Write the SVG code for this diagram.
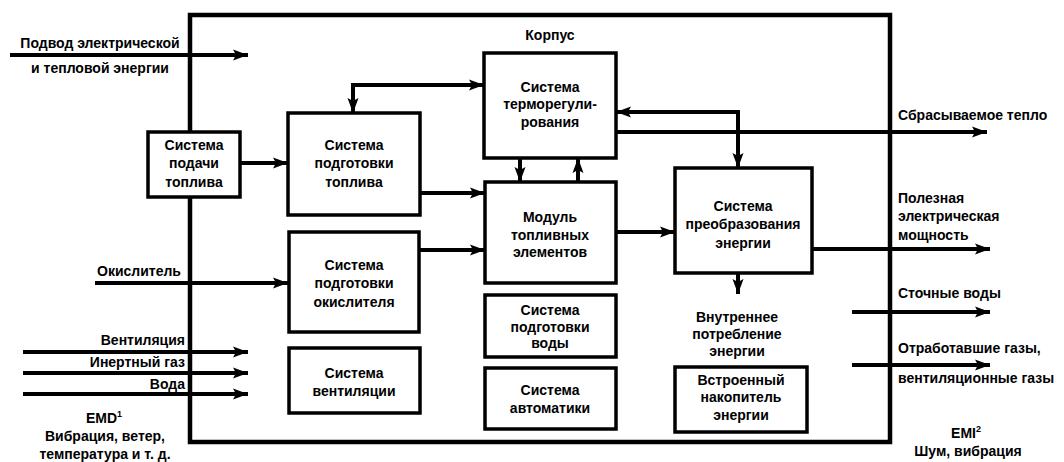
<svg xmlns="http://www.w3.org/2000/svg" width="1064" height="462" viewBox="0 0 1064 462">
<style>
text{font-family:"Liberation Sans",Arial,sans-serif;font-size:14px;font-weight:bold;fill:#000}
.c{text-anchor:middle}
.e{text-anchor:end}
.box{fill:#fff;stroke:#000;stroke-width:3.5}
.ln{fill:none;stroke:#000;stroke-width:4}
.ar{marker-end:url(#ah)}
.bi{marker-start:url(#ah);marker-end:url(#ah)}
</style>
<defs>
<marker id="ah" markerUnits="userSpaceOnUse" markerWidth="16" markerHeight="14" refX="15" refY="6" orient="auto-start-reverse" viewBox="0 0 16 12">
<path d="M0,0.5 L15,6 L0,11.5 L3,6 z" fill="#000"/>
</marker>
</defs>
<g id="housing">
<rect x="190" y="15" width="700" height="427" fill="none" stroke="#000" stroke-width="4.5"/>
<text class="c" x="550" y="40">Корпус</text>
</g>
<g id="connectors">
<path class="ln ar" d="M10,55 H248"/>
<path class="ln ar" d="M240,163 H288"/>
<path class="ln ar" d="M95,283 H288"/>
<path class="ln ar" d="M23,352 H248"/>
<path class="ln ar" d="M23,373 H248"/>
<path class="ln ar" d="M23,394 H248"/>
<path class="ln bi" d="M353,113 V85 H484"/>
<path class="ln bi" d="M616,112 H738 V168"/>
<path class="ln ar" d="M616,132 H987"/>
<path class="ln ar" d="M520,158 V182"/>
<path class="ln ar" d="M578,182 V158"/>
<path class="ln ar" d="M420,193 H485"/>
<path class="ln ar" d="M419,250 H485"/>
<path class="ln ar" d="M616,232 H675"/>
<path class="ln ar" d="M738,273 V294"/>
<path class="ln ar" d="M812,249 H990"/>
<path class="ln ar" d="M852,312 H990"/>
<path class="ln ar" d="M852,365 H990"/>
</g>
<g id="fuel-supply">
<rect class="box" x="148" y="132" width="92" height="65"/>
<text class="c" x="194" y="150">Система</text>
<text class="c" x="194" y="168">подачи</text>
<text class="c" x="194" y="187">топлива</text>
</g>
<g id="fuel-prep">
<rect class="box" x="288" y="113" width="132" height="102"/>
<text class="c" x="354" y="150">Система</text>
<text class="c" x="354" y="168">подготовки</text>
<text class="c" x="354" y="187">топлива</text>
</g>
<g id="oxidant-prep">
<rect class="box" x="289" y="232" width="130" height="100"/>
<text class="c" x="354" y="270">Система</text>
<text class="c" x="354" y="288">подготовки</text>
<text class="c" x="354" y="307">окислителя</text>
</g>
<g id="ventilation">
<rect class="box" x="289" y="348" width="131" height="65"/>
<text class="c" x="354" y="378">Система</text>
<text class="c" x="354" y="396">вентиляции</text>
</g>
<g id="thermal">
<rect class="box" x="484" y="53" width="132" height="105"/>
<text class="c" x="550" y="92">Система</text>
<text class="c" x="550" y="109">терморегули-</text>
<text class="c" x="550" y="127">рования</text>
</g>
<g id="fuel-cell-module">
<rect class="box" x="485" y="182" width="131" height="101"/>
<text class="c" x="550" y="222">Модуль</text>
<text class="c" x="550" y="240">топливных</text>
<text class="c" x="550" y="257">элементов</text>
</g>
<g id="water-prep">
<rect class="box" x="485" y="295" width="131" height="62"/>
<text class="c" x="550" y="315">Система</text>
<text class="c" x="550" y="332">подготовки</text>
<text class="c" x="550" y="348">воды</text>
</g>
<g id="automation">
<rect class="box" x="485" y="368" width="131" height="61"/>
<text class="c" x="550" y="395">Система</text>
<text class="c" x="550" y="413">автоматики</text>
</g>
<g id="power-conversion">
<rect class="box" x="675" y="168" width="137" height="105"/>
<text class="c" x="743" y="211">Система</text>
<text class="c" x="743" y="229">преобразования</text>
<text class="c" x="743" y="248">энергии</text>
</g>
<g id="internal-consumption">
<text class="c" x="737" y="322">Внутреннее</text>
<text class="c" x="737" y="339">потребление</text>
<text class="c" x="737" y="356">энергии</text>
</g>
<g id="energy-storage">
<rect class="box" x="675" y="367" width="132" height="65"/>
<text class="c" x="741" y="385">Встроенный</text>
<text class="c" x="741" y="402">накопитель</text>
<text class="c" x="741" y="420">энергии</text>
</g>
<g id="labels">
<text class="c" x="100" y="48">Подвод электрической</text>
<text class="c" x="100" y="73">и тепловой энергии</text>
<text x="97" y="276">Окислитель</text>
<text class="e" x="185" y="345">Вентиляция</text>
<text class="e" x="185" y="367">Инертный газ</text>
<text class="e" x="185" y="389">Вода</text>
<text class="c" x="104" y="423">ЕМD<tspan font-size="9" dy="-6">1</tspan></text>
<text class="c" x="105" y="441">Вибрация, ветер,</text>
<text class="c" x="105" y="459">температура и т. д.</text>
<text x="898" y="120">Сбрасываемое тепло</text>
<text x="898" y="203">Полезная</text>
<text x="898" y="221">электрическая</text>
<text x="898" y="240">мощность</text>
<text x="898" y="298">Сточные воды</text>
<text x="898" y="353">Отработавшие газы,</text>
<text x="898" y="383">вентиляционные газы</text>
<text class="c" x="966" y="438">ЕМI<tspan font-size="9" dy="-6">2</tspan></text>
<text class="c" x="968" y="456">Шум, вибрация</text>
</g>
</svg>
